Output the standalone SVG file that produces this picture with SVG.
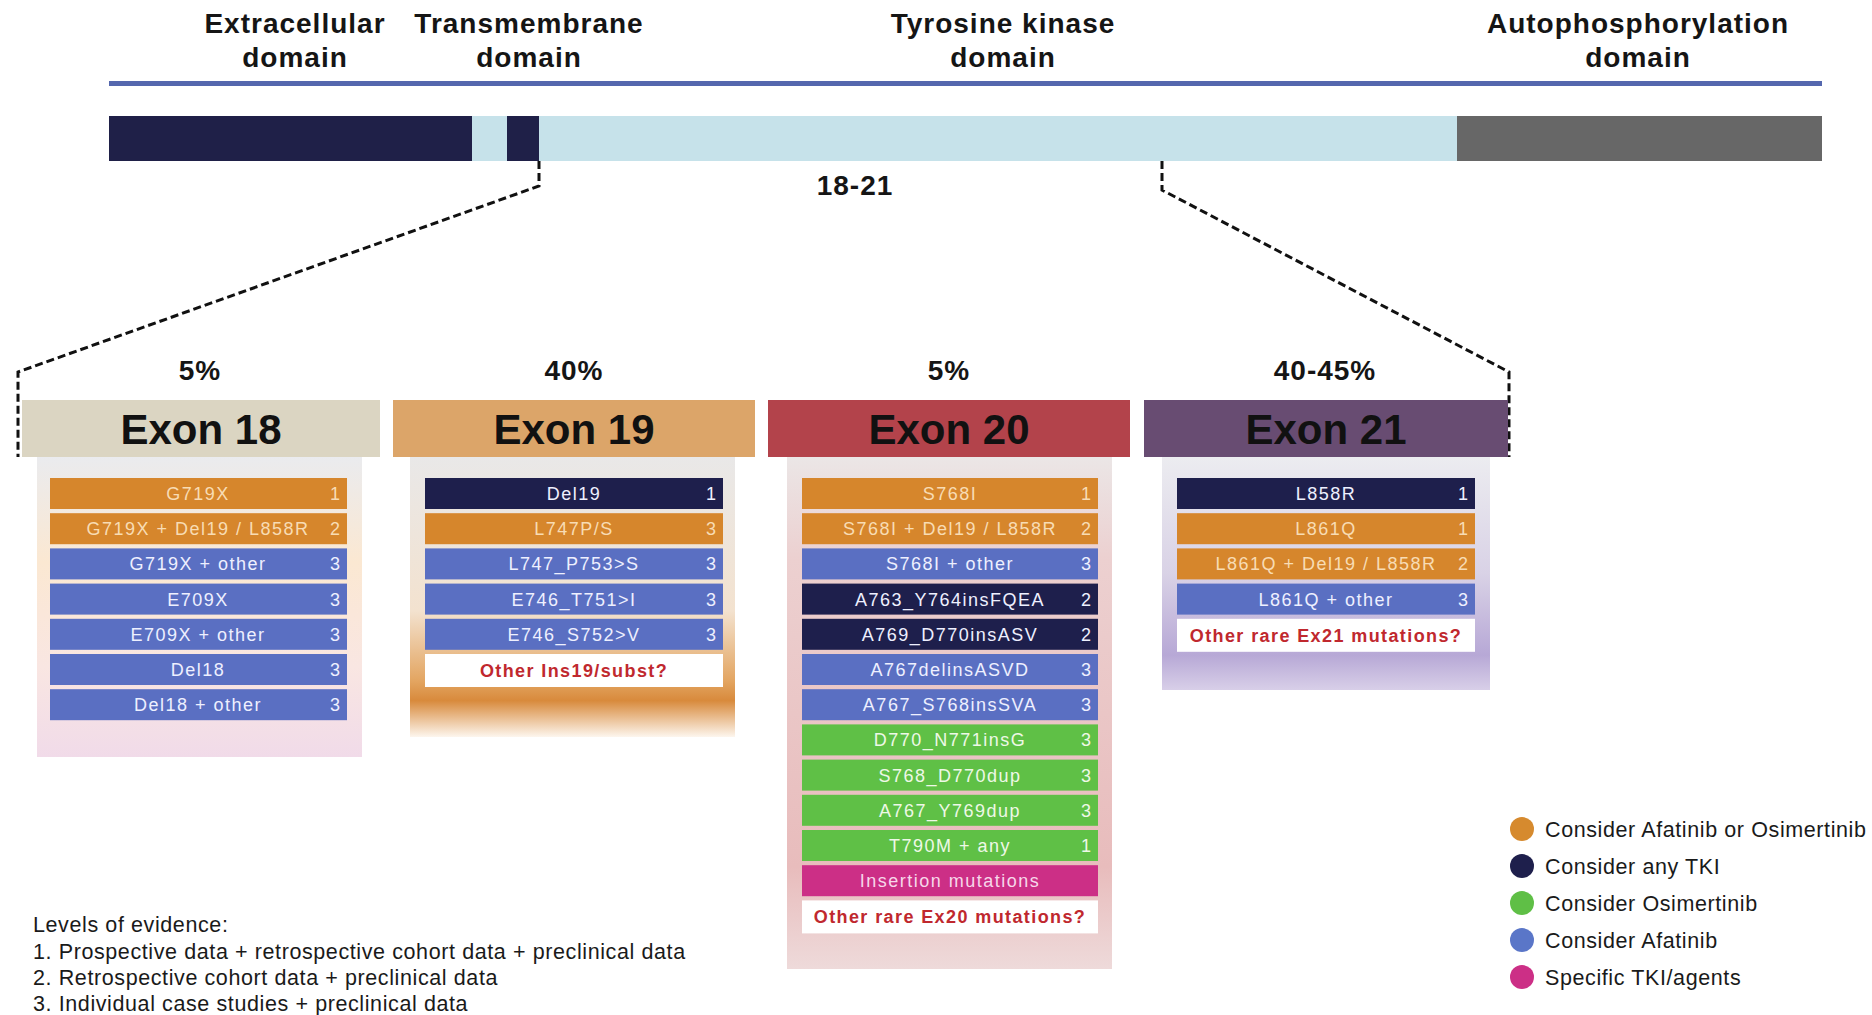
<svg xmlns="http://www.w3.org/2000/svg" width="1872" height="1015" viewBox="0 0 1872 1015">
<defs>
<linearGradient id="g18" x1="0" y1="0" x2="0" y2="1">
<stop offset="0" stop-color="#eaebee"/><stop offset="0.35" stop-color="#fbe8d2"/><stop offset="0.7" stop-color="#f9e6e2"/><stop offset="1" stop-color="#f1dbe9"/>
</linearGradient>
<linearGradient id="g19" x1="0" y1="0" x2="0" y2="1">
<stop offset="0" stop-color="#e9e8e8"/><stop offset="0.55" stop-color="#f3e2cf"/><stop offset="0.8" stop-color="#e3a561"/><stop offset="0.87" stop-color="#d88a3c"/><stop offset="1" stop-color="#fdf6ee"/>
</linearGradient>
<linearGradient id="g20" x1="0" y1="0" x2="0" y2="1">
<stop offset="0" stop-color="#ebe6e6"/><stop offset="0.2" stop-color="#ecd0d0"/><stop offset="0.8" stop-color="#e8bcbc"/><stop offset="1" stop-color="#eedada"/>
</linearGradient>
<linearGradient id="g21" x1="0" y1="0" x2="0" y2="1">
<stop offset="0" stop-color="#ececf0"/><stop offset="0.5" stop-color="#d9d2e6"/><stop offset="0.85" stop-color="#b7a8d6"/><stop offset="1" stop-color="#d8cfe8"/>
</linearGradient>
<style>
text{font-family:"Liberation Sans",Arial,sans-serif}
.dom{font-size:28px;font-weight:bold;fill:#151515;text-anchor:middle;letter-spacing:1px}
.pct{font-size:28px;font-weight:bold;fill:#151515;text-anchor:middle;letter-spacing:1px}
.ex{font-size:42px;font-weight:bold;fill:#111;text-anchor:middle}
.r{font-size:18px;text-anchor:middle;letter-spacing:1.5px}
.n{font-size:18px;text-anchor:middle}
.or{fill:#d6862c}.bl{fill:#5a6fc2}.nv{fill:#1e1f4c}.gr{fill:#5fc046}.mg{fill:#cc2f86}.wh{fill:#ffffff}
.tor{fill:#f8dcb4}.tbl{fill:#eef0ff}.tgr{fill:#eef8e6}.tmg{fill:#f7d8ea}
.tred{fill:#c0282e;font-weight:bold;letter-spacing:1.4px}
.lg{font-size:21.5px;fill:#1a1a1a;letter-spacing:0.6px}
.dash{fill:none;stroke:#111;stroke-width:3;stroke-dasharray:8 4}
</style>
</defs>
<rect width="1872" height="1015" fill="#ffffff"/>

<g id="domain-labels">
<text class="dom" x="295" y="33">Extracellular</text><text class="dom" x="295" y="67">domain</text>
<text class="dom" x="529" y="33">Transmembrane</text><text class="dom" x="529" y="67">domain</text>
<text class="dom" x="1003" y="33">Tyrosine kinase</text><text class="dom" x="1003" y="67">domain</text>
<text class="dom" x="1638" y="33">Autophosphorylation</text><text class="dom" x="1638" y="67">domain</text>
</g>

<g id="protein-bar">
<rect x="109" y="81" width="1713" height="5" fill="#5567ae"/>
<rect x="109" y="116" width="363" height="45" fill="#1f2048"/>
<rect x="472" y="116" width="35" height="45" fill="#c6e2ea"/>
<rect x="507" y="116" width="32" height="45" fill="#1f2048"/>
<rect x="539" y="116" width="918" height="45" fill="#c6e2ea"/>
<rect x="1457" y="116" width="365" height="45" fill="#676767"/>
<text class="dom" x="855" y="195">18-21</text>
</g>

<g id="connectors">
<path class="dash" d="M539,161 V186 L18,372 V457"/>
<path class="dash" d="M1162,161 V190 L1509,372 V457"/>
</g>

<g id="exon18">
<text class="pct" x="200" y="380">5%</text>
<rect x="37" y="457" width="325" height="300" fill="url(#g18)"/>
<rect x="22" y="400" width="358" height="57" fill="#dbd5c2"/>
<text class="ex" x="201" y="444">Exon 18</text>
<rect class="or" x="50" y="478" width="297" height="31"/><text class="r tor" x="198" y="500">G719X</text><text class="n tor" x="335" y="500">1</text>
<rect class="or" x="50" y="513.2" width="297" height="31"/><text class="r tor" x="198" y="535.2">G719X + Del19 / L858R</text><text class="n tor" x="335" y="535.2">2</text>
<rect class="bl" x="50" y="548.4" width="297" height="31"/><text class="r tbl" x="198" y="570.4">G719X + other</text><text class="n tbl" x="335" y="570.4">3</text>
<rect class="bl" x="50" y="583.6" width="297" height="31"/><text class="r tbl" x="198" y="605.6">E709X</text><text class="n tbl" x="335" y="605.6">3</text>
<rect class="bl" x="50" y="618.8" width="297" height="31"/><text class="r tbl" x="198" y="640.8">E709X + other</text><text class="n tbl" x="335" y="640.8">3</text>
<rect class="bl" x="50" y="654" width="297" height="31"/><text class="r tbl" x="198" y="676">Del18</text><text class="n tbl" x="335" y="676">3</text>
<rect class="bl" x="50" y="689.2" width="297" height="31"/><text class="r tbl" x="198" y="711.2">Del18 + other</text><text class="n tbl" x="335" y="711.2">3</text>
</g>

<g id="exon19">
<text class="pct" x="574" y="380">40%</text>
<rect x="410" y="457" width="325" height="280" fill="url(#g19)"/>
<rect x="393" y="400" width="362" height="57" fill="#dca569"/>
<text class="ex" x="574" y="444">Exon 19</text>
<rect class="nv" x="425" y="478" width="298" height="31"/><text class="r tbl" x="574" y="500">Del19</text><text class="n tbl" x="711" y="500">1</text>
<rect class="or" x="425" y="513.2" width="298" height="31"/><text class="r tor" x="574" y="535.2">L747P/S</text><text class="n tor" x="711" y="535.2">3</text>
<rect class="bl" x="425" y="548.4" width="298" height="31"/><text class="r tbl" x="574" y="570.4">L747_P753&gt;S</text><text class="n tbl" x="711" y="570.4">3</text>
<rect class="bl" x="425" y="583.6" width="298" height="31"/><text class="r tbl" x="574" y="605.6">E746_T751&gt;I</text><text class="n tbl" x="711" y="605.6">3</text>
<rect class="bl" x="425" y="618.8" width="298" height="31"/><text class="r tbl" x="574" y="640.8">E746_S752&gt;V</text><text class="n tbl" x="711" y="640.8">3</text>
<rect class="wh" x="425" y="654" width="298" height="33"/><text class="r tred" x="574" y="677">Other Ins19/subst?</text>
</g>

<g id="exon20">
<text class="pct" x="949" y="380">5%</text>
<rect x="787" y="457" width="325" height="512" fill="url(#g20)"/>
<rect x="768" y="400" width="362" height="57" fill="#b3434b"/>
<text class="ex" x="949" y="444">Exon 20</text>
<rect class="or" x="802" y="478" width="296" height="31"/><text class="r tor" x="950" y="500">S768I</text><text class="n tor" x="1086" y="500">1</text>
<rect class="or" x="802" y="513.2" width="296" height="31"/><text class="r tor" x="950" y="535.2">S768I + Del19 / L858R</text><text class="n tor" x="1086" y="535.2">2</text>
<rect class="bl" x="802" y="548.4" width="296" height="31"/><text class="r tbl" x="950" y="570.4">S768I + other</text><text class="n tbl" x="1086" y="570.4">3</text>
<rect class="nv" x="802" y="583.6" width="296" height="31"/><text class="r tbl" x="950" y="605.6">A763_Y764insFQEA</text><text class="n tbl" x="1086" y="605.6">2</text>
<rect class="nv" x="802" y="618.8" width="296" height="31"/><text class="r tbl" x="950" y="640.8">A769_D770insASV</text><text class="n tbl" x="1086" y="640.8">2</text>
<rect class="bl" x="802" y="654" width="296" height="31"/><text class="r tbl" x="950" y="676">A767delinsASVD</text><text class="n tbl" x="1086" y="676">3</text>
<rect class="bl" x="802" y="689.2" width="296" height="31"/><text class="r tbl" x="950" y="711.2">A767_S768insSVA</text><text class="n tbl" x="1086" y="711.2">3</text>
<rect class="gr" x="802" y="724.4" width="296" height="31"/><text class="r tgr" x="950" y="746.4">D770_N771insG</text><text class="n tgr" x="1086" y="746.4">3</text>
<rect class="gr" x="802" y="759.6" width="296" height="31"/><text class="r tgr" x="950" y="781.6">S768_D770dup</text><text class="n tgr" x="1086" y="781.6">3</text>
<rect class="gr" x="802" y="794.8" width="296" height="31"/><text class="r tgr" x="950" y="816.8">A767_Y769dup</text><text class="n tgr" x="1086" y="816.8">3</text>
<rect class="gr" x="802" y="830" width="296" height="31"/><text class="r tgr" x="950" y="852">T790M + any</text><text class="n tgr" x="1086" y="852">1</text>
<rect class="mg" x="802" y="865.2" width="296" height="31"/><text class="r tmg" x="950" y="887.2">Insertion mutations</text>
<rect class="wh" x="802" y="900.4" width="296" height="33"/><text class="r tred" x="950" y="923.4">Other rare Ex20 mutations?</text>
</g>

<g id="exon21">
<text class="pct" x="1325" y="380">40-45%</text>
<rect x="1162" y="457" width="328" height="233" fill="url(#g21)"/>
<rect x="1144" y="400" width="364" height="57" fill="#684c72"/>
<text class="ex" x="1326" y="444">Exon 21</text>
<rect class="nv" x="1177" y="478" width="298" height="31"/><text class="r tbl" x="1326" y="500">L858R</text><text class="n tbl" x="1463" y="500">1</text>
<rect class="or" x="1177" y="513.2" width="298" height="31"/><text class="r tor" x="1326" y="535.2">L861Q</text><text class="n tor" x="1463" y="535.2">1</text>
<rect class="or" x="1177" y="548.4" width="298" height="31"/><text class="r tor" x="1326" y="570.4">L861Q + Del19 / L858R</text><text class="n tor" x="1463" y="570.4">2</text>
<rect class="bl" x="1177" y="583.6" width="298" height="31"/><text class="r tbl" x="1326" y="605.6">L861Q + other</text><text class="n tbl" x="1463" y="605.6">3</text>
<rect class="wh" x="1177" y="618.8" width="298" height="33"/><text class="r tred" x="1326" y="641.8">Other rare Ex21 mutations?</text>
</g>

<g id="legend">
<circle cx="1522" cy="829" r="12" fill="#d68a2e"/><text class="lg" x="1545" y="837">Consider Afatinib or Osimertinib</text>
<circle cx="1522" cy="866" r="12" fill="#1e1f4c"/><text class="lg" x="1545" y="874">Consider any TKI</text>
<circle cx="1522" cy="903" r="12" fill="#5fbf46"/><text class="lg" x="1545" y="911">Consider Osimertinib</text>
<circle cx="1522" cy="940" r="12" fill="#5a76c8"/><text class="lg" x="1545" y="948">Consider Afatinib</text>
<circle cx="1522" cy="977" r="12" fill="#cc2f86"/><text class="lg" x="1545" y="985">Specific TKI/agents</text>
</g>

<g id="evidence-levels">
<text class="lg" x="33" y="932">Levels of evidence:</text>
<text class="lg" x="33" y="959">1. Prospective data + retrospective cohort data + preclinical data</text>
<text class="lg" x="33" y="985">2. Retrospective cohort data + preclinical data</text>
<text class="lg" x="33" y="1011">3. Individual case studies + preclinical data</text>
</g>
</svg>
